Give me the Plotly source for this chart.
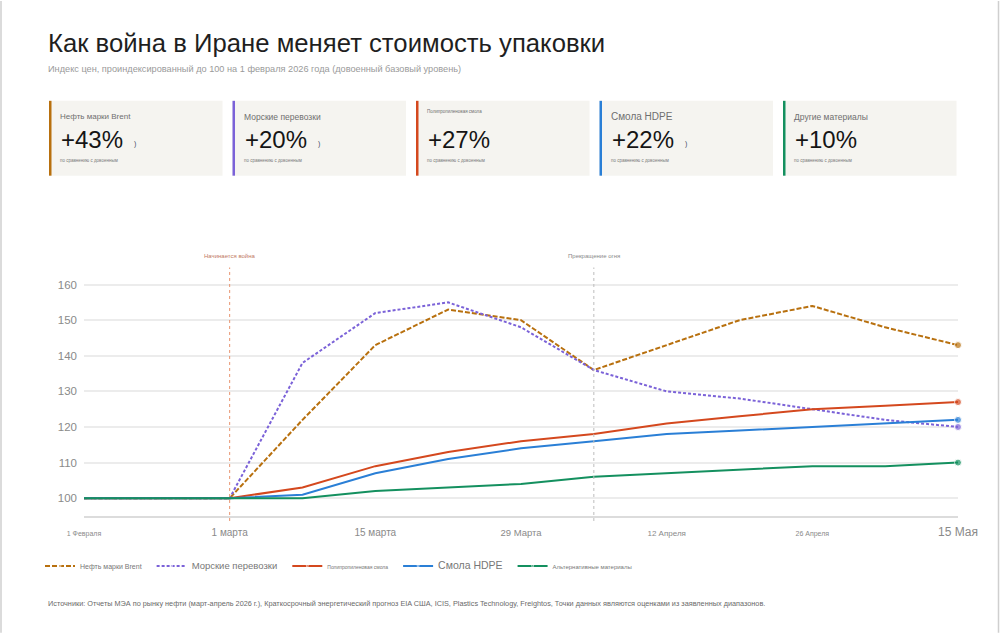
import plotly.graph_objects as go

# ---------------- data ----------------
dates = ["2026-02-01", "2026-02-15", "2026-03-01", "2026-03-08", "2026-03-15",
         "2026-03-22", "2026-03-29", "2026-04-05", "2026-04-12", "2026-04-19",
         "2026-04-26", "2026-05-03", "2026-05-15"]

brent = [100, 100, 100, 122, 143, 153, 150, 136, 143, 150, 154, 148, 143]
shipping = [100, 100, 100, 138, 152, 155, 148, 136, 130, 128, 125, 122, 120]
petro = [100, 100, 100, 103, 109, 113, 116, 118, 121, 123, 125, 126, 127]
hdpe = [100, 100, 100, 101, 107, 111, 114, 116, 118, 119, 120, 121, 122]
other = [100, 100, 100, 100, 102, 103, 104, 106, 107, 108, 109, 109, 110]

tick_dates = ["2026-02-01", "2026-03-01", "2026-03-15", "2026-03-29",
              "2026-04-12", "2026-04-26", "2026-05-15"]
tick_labels = ["1 Февраля", "1 марта", "15 марта", "29 Марта",
               "12 Апреля", "26 Апреля", "15 Мая"]
tick_sizes = [7, 10, 10, 9.5, 8, 7, 12]

y_ticks = [100, 110, 120, 130, 140, 150, 160]

card_labels = ["Нефть марки Brent", "Морские перевозки", "Полипропиленовая смола",
               "Смола HDPE", "Другие материалы"]
card_label_sizes = [8, 8.5, 4.5, 10, 8.5]
legend_names = ["Нефть марки Brent", "Морские перевозки", "Полипропиленовая смола",
                "Смола HDPE", "Альтернативные материалы"]
legend_sizes = [7, 9.5, 5, 10.5, 6]
caption = "по сравнению с довоенным"

war_start = "2026-03-01"
ceasefire = "2026-04-05"

series = [brent, shipping, petro, hdpe, other]
colors = ["#b8700e", "#7b62d8", "#d4481e", "#2a7fd6", "#14905f"]
dashes = ["5px,2px", "3px,2px", "solid", "solid", "solid"]

# ---------------- geometry helpers ----------------
W, H = 1000, 633
L, R, T, B = 84, 958, 264.5, 516


def px(x):
    return (x - L) / (R - L)


def py(y):
    return (B - y) / (B - T)


FONT = "Liberation Sans, Arial, sans-serif"

fig = go.Figure()
for s, name, sz, c, d in zip(series, legend_names, legend_sizes, colors, dashes):
    n = len(s)
    fig.add_trace(go.Scatter(
        x=dates, y=s, mode="lines+markers",
        name=f'<span style="font-size:{sz}px">{name}</span>&nbsp;&nbsp;',
        line=dict(color=c, width=2, dash=d),
        marker=dict(size=[0] * (n - 1) + [7], color=c),
        cliponaxis=False,
        hovertemplate=name + ": %{y}<extra></extra>",
    ))

shapes = []
annotations = []

# frame edges
for xe in (1, 998.5):
    shapes.append(dict(type="line", xref="paper", yref="paper",
                       x0=px(xe), x1=px(xe), y0=py(0), y1=py(H),
                       line=dict(color="#cfcfcf", width=1.5)))

# event lines
shapes.append(dict(type="line", xref="x", yref="paper", x0=war_start, x1=war_start,
                   y0=py(521), y1=py(267), line=dict(color="#e8946f", width=1, dash="3px,3px")))
shapes.append(dict(type="line", xref="x", yref="paper", x0=ceasefire, x1=ceasefire,
                   y0=py(521), y1=py(267), line=dict(color="#bcbcbc", width=1, dash="3px,3px")))
annotations.append(dict(x=war_start, xref="x", y=py(255), yref="paper", yanchor="middle",
                        text="Начинается война",
                        showarrow=False, font=dict(size=6, color="#c27a64", family=FONT)))
annotations.append(dict(x=ceasefire, xref="x", y=py(255), yref="paper", yanchor="middle",
                        text="Прекращение огня",
                        showarrow=False, font=dict(size=6, color="#8a8a8a", family=FONT)))

# title / subtitle
annotations.append(dict(x=px(46), y=py(42), xref="paper", yref="paper", xanchor="left",
                        yanchor="middle", showarrow=False,
                        text="Как война в Иране меняет стоимость упаковки",
                        font=dict(size=25.7, color="#1f1f1f", family=FONT)))
annotations.append(dict(x=px(46), y=py(68), xref="paper", yref="paper", xanchor="left",
                        yanchor="middle", showarrow=False,
                        text="Индекс цен, проиндексированный до 100 на 1 февраля 2026 года (довоенный базовый уровень)",
                        font=dict(size=9.2, color="#9a9a9a", family=FONT)))

# KPI cards
card_x0 = [49, 232.5, 416, 599.5, 783]
card_w = 173.5
for i, (lab, lsz, s, c) in enumerate(zip(card_labels, card_label_sizes, series, colors)):
    x0 = card_x0[i]
    shapes.append(dict(type="rect", xref="paper", yref="paper",
                       x0=px(x0), x1=px(x0 + card_w), y0=py(175), y1=py(100),
                       fillcolor="#f5f4f0", line=dict(width=0), layer="below"))
    shapes.append(dict(type="rect", xref="paper", yref="paper",
                       x0=px(x0), x1=px(x0 + 2.5), y0=py(175), y1=py(100),
                       fillcolor=c, line=dict(width=0), layer="below"))
    ly = 111 if lsz < 6 else 116
    annotations.append(dict(x=px(x0 + 9), y=py(ly), xref="paper", yref="paper", xanchor="left",
                            yanchor="middle", showarrow=False, text=lab,
                            font=dict(size=lsz, color="#6f6f6f", family=FONT)))
    val = f"+{s[-1] - s[0]}%"
    annotations.append(dict(x=px(x0 + 10), y=py(139), xref="paper", yref="paper", xanchor="left",
                            yanchor="middle", showarrow=False, text=val,
                            font=dict(size=24, color="#151515", family=FONT)))
    if i in (0, 1, 3):
        annotations.append(dict(x=px(x0 + 83), y=py(143), xref="paper", yref="paper", xanchor="left",
                                yanchor="middle", showarrow=False, text=")",
                                font=dict(size=7, color="#3a4660", family=FONT)))
    annotations.append(dict(x=px(x0 + 9), y=py(160), xref="paper", yref="paper", xanchor="left",
                            yanchor="middle", showarrow=False, text=caption,
                            font=dict(size=4.5, color="#7a7a7a", family=FONT)))

# sources
annotations.append(dict(x=px(46), y=py(604), xref="paper", yref="paper", xanchor="left",
                        yanchor="middle", showarrow=False,
                        text="Источники: Отчеты МЭА по рынку нефти (март-апрель 2026 г.), Краткосрочный энергетический прогноз EIA США, ICIS, Plastics Technology, Freightos, Точки данных являются оценками из заявленных диапазонов.",
                        font=dict(size=7.3, color="#6a6a6a", family=FONT)))

ticktext = [f'<span style="font-size:{s}px">{t}</span>' for t, s in zip(tick_labels, tick_sizes)]

fig.update_layout(
    width=W, height=H,
    margin=dict(l=L, r=W - R, t=T, b=H - B, autoexpand=False),
    paper_bgcolor="white", plot_bgcolor="white",
    font=dict(family=FONT, color="#777777"),
    showlegend=True,
    legend=dict(orientation="h", x=px(40), xanchor="left", y=py(566), yanchor="middle",
                font=dict(size=9, color="#777777", family=FONT), bgcolor="rgba(0,0,0,0)"),
    xaxis=dict(type="category", range=[0, len(dates) - 1], tickmode="array",
               tickvals=tick_dates, ticktext=ticktext, showgrid=False, zeroline=False,
               showline=True, linecolor="#dcdcdc", linewidth=1.5, ticks="",
               tickfont=dict(color="#8a8a8a", family=FONT), ticklabelstandoff=4),
    yaxis=dict(range=[95, 165.5], tickvals=y_ticks, showgrid=True, gridcolor="#ececec",
               gridwidth=1.5, zeroline=False, showline=False, ticks="",
               tickfont=dict(size=11.5, color="#8a8a8a", family=FONT), ticklabelstandoff=6),
    shapes=shapes, annotations=annotations,
    hovermode="closest",
)

fig.write_html("out.html")
